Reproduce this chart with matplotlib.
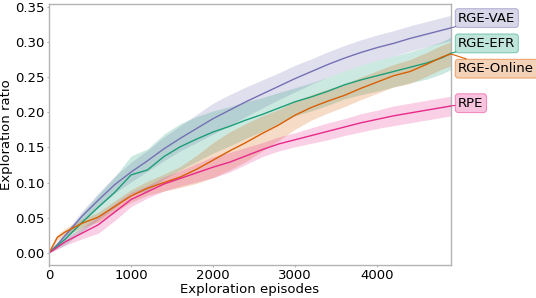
import matplotlib
matplotlib.use("Agg")
import matplotlib.pyplot as plt
import numpy as np

episodes = [0, 100, 200, 400, 600, 800, 1000, 1200, 1400, 1600, 1800, 2000, 2200, 2400,
            2600, 2800, 3000, 3200, 3400, 3600, 3800, 4000, 4200, 4400, 4600, 4800, 4900]

vae_mean = [0, 0.012, 0.025, 0.052, 0.075, 0.097, 0.115, 0.131, 0.148, 0.163, 0.177, 0.191,
            0.203, 0.215, 0.226, 0.237, 0.248, 0.258, 0.268, 0.277, 0.285, 0.292, 0.298,
            0.305, 0.311, 0.317, 0.320]
vae_spread = [0, 0.003, 0.005, 0.007, 0.010, 0.012, 0.014, 0.015, 0.017, 0.018, 0.020, 0.022,
              0.022, 0.021, 0.020, 0.019, 0.019, 0.018, 0.018, 0.018, 0.018, 0.018, 0.018,
              0.018, 0.018, 0.018, 0.018]

efr_mean = [0, 0.010, 0.020, 0.043, 0.065, 0.086, 0.111, 0.118, 0.137, 0.151, 0.162, 0.172,
            0.180, 0.189, 0.197, 0.206, 0.215, 0.222, 0.230, 0.239, 0.246, 0.252, 0.258,
            0.264, 0.270, 0.278, 0.284]
efr_spread = [0, 0.004, 0.008, 0.013, 0.018, 0.022, 0.027, 0.030, 0.032, 0.033, 0.032, 0.030,
              0.028, 0.026, 0.024, 0.022, 0.020, 0.020, 0.020, 0.020, 0.021, 0.022, 0.022,
              0.022, 0.023, 0.023, 0.023]

online_mean = [0, 0.022, 0.030, 0.042, 0.051, 0.066, 0.081, 0.092, 0.100, 0.108, 0.119, 0.132,
               0.145, 0.157, 0.170, 0.182, 0.196, 0.207, 0.216, 0.224, 0.234, 0.243, 0.252,
               0.258, 0.268, 0.279, 0.283]
online_spread = [0, 0.004, 0.005, 0.006, 0.007, 0.008, 0.009, 0.010, 0.012, 0.015, 0.020, 0.025,
                 0.027, 0.027, 0.025, 0.022, 0.020, 0.018, 0.017, 0.016, 0.016, 0.016, 0.016,
                 0.017, 0.017, 0.017, 0.017]

rpe_mean = [0, 0.008, 0.016, 0.028, 0.040, 0.058, 0.076, 0.087, 0.098, 0.106, 0.114, 0.122,
            0.129, 0.138, 0.147, 0.155, 0.161, 0.167, 0.173, 0.179, 0.185, 0.190, 0.195,
            0.199, 0.203, 0.207, 0.209]
rpe_spread = [0, 0.003, 0.005, 0.008, 0.012, 0.012, 0.010, 0.009, 0.010, 0.011, 0.013, 0.015,
              0.014, 0.012, 0.010, 0.010, 0.010, 0.011, 0.012, 0.012, 0.013, 0.013, 0.014,
              0.014, 0.014, 0.014, 0.014]

names = ["RGE-VAE", "RGE-EFR", "RGE-Online", "RPE"]
label_y = [0.334, 0.298, 0.262, 0.213]
colors = ["#7570b3", "#1b9e77", "#d95f02", "#e7298a"]

means = [vae_mean, efr_mean, online_mean, rpe_mean]
spreads = [vae_spread, efr_spread, online_spread, rpe_spread]

plt.rcParams['font.family'] = ['DejaVu Sans']
fig = plt.figure(figsize=(5.36, 2.98), dpi=100)
ax = fig.add_axes([0.0914, 0.111, 0.750, 0.8756])

x = np.array(episodes)
for name, m, s, c, ly in zip(names, means, spreads, colors, label_y):
    m = np.array(m)
    s = np.array(s)
    ax.fill_between(x, m - s, m + s, color=c, alpha=0.22, lw=0)
    ax.plot(x, m, color=c, lw=1.0)
    ax.annotate(name, xy=(x[-1], m[-1]), xycoords='data',
                xytext=(1.018, ly), textcoords=('axes fraction', 'data'),
                ha='left', va='center', fontsize=9.5, annotation_clip=False,
                bbox=dict(boxstyle='round,pad=0.22', fc=matplotlib.colors.to_rgba(c, 0.28),
                          ec=matplotlib.colors.to_rgba(c, 0.45), lw=0.8),
                arrowprops=dict(arrowstyle='-', color=c, lw=0.8,
                                shrinkA=0, shrinkB=0))

ax.set_xlim(0, 4900)
ax.set_ylim(-0.017, 0.354)
ax.set_xticks([0, 1000, 2000, 3000, 4000])
ax.set_yticks([0.0, 0.05, 0.10, 0.15, 0.20, 0.25, 0.30, 0.35])
ax.set_yticklabels(["0.00", "0.05", "0.10", "0.15", "0.20", "0.25", "0.30", "0.35"])
ax.tick_params(axis='both', labelsize=9.5, length=1.5, color='0.7', pad=1.5)
for sp in ax.spines.values():
    sp.set_color('0.7')
    sp.set_linewidth(1.0)
ax.set_xlabel("Exploration episodes", fontsize=9.5, labelpad=1)
ax.set_ylabel("Exploration ratio", fontsize=9.5, labelpad=2)

fig.savefig("out.png", dpi=100)
